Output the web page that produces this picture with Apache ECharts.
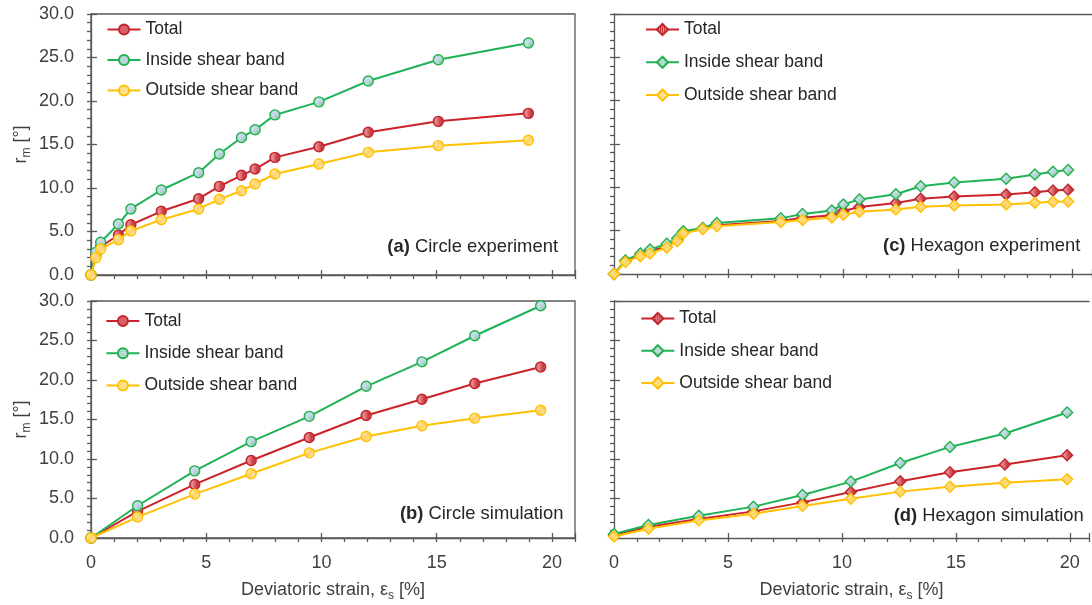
<!DOCTYPE html>
<html>
<head>
<meta charset="utf-8">
<script src="https://cdn.jsdelivr.net/npm/echarts@6/dist/echarts.min.js"></script>
<style>
html,body{margin:0;padding:0;background:#fff;}
#chart{width:1092px;height:605px;}
</style>
</head>
<body>
<div id="chart"></div>
<script>
// ---------------- data ----------------
const seriesNames = ['Total', 'Inside shear band', 'Outside shear band'];
const xTicks = [0, 5, 10, 15, 20];
const yTicks = ['0.0', '5.0', '10.0', '15.0', '20.0', '25.0', '30.0'];

// (a) Circle experiment
const aX       = [0, 0.21, 0.42, 1.19, 1.73, 3.05, 4.67, 5.57, 6.53, 7.12, 7.98, 9.89, 12.03, 15.07, 18.98];
const aTotal   = [0, 2.3, 3.25, 4.6, 5.78, 7.32, 8.77, 10.19, 11.46, 12.18, 13.52, 14.75, 16.4, 17.66, 18.58];
const aInside  = [0, 2.6, 3.76, 5.86, 7.59, 9.77, 11.76, 13.9, 15.8, 16.7, 18.4, 19.9, 22.3, 24.75, 26.67];
const aOutside = [0, 1.99, 2.99, 4.06, 5.06, 6.36, 7.59, 8.7, 9.69, 10.46, 11.61, 12.76, 14.1, 14.87, 15.48];

// (b) Circle simulation
const bX       = [0, 2.02, 4.5, 6.95, 9.47, 11.94, 14.36, 16.65, 19.51];
const bTotal   = [0, 3.37, 6.78, 9.81, 12.72, 15.5, 17.57, 19.55, 21.65];
const bInside  = [0, 4.08, 8.5, 12.2, 15.4, 19.2, 22.3, 25.6, 29.4];
const bOutside = [0, 2.65, 5.56, 8.13, 10.78, 12.85, 14.2, 15.17, 16.18];

// (c) Hexagon experiment
const cX       = [0, 0.5, 1.15, 1.57, 2.3, 2.76, 3.02, 3.87, 4.48, 7.27, 8.22, 9.5, 10.0, 10.7, 12.29, 13.37, 14.83, 17.1, 18.35, 19.14, 19.8];
const cTotal   = [0, 1.5, 2.2, 2.7, 3.1, 3.9, 4.78, 5.24, 5.62, 6.12, 6.5, 6.77, 7.26, 7.72, 8.18, 8.68, 8.95, 9.17, 9.44, 9.63, 9.71];
const cInside  = [0, 1.57, 2.37, 2.83, 3.48, 4.13, 4.93, 5.31, 5.89, 6.42, 6.92, 7.34, 8.03, 8.6, 9.21, 10.13, 10.55, 11.0, 11.47, 11.81, 12.0];
const cOutside = [0, 1.38, 2.06, 2.37, 3.06, 3.78, 4.66, 5.2, 5.5, 6.0, 6.23, 6.53, 6.84, 7.18, 7.45, 7.76, 7.91, 8.03, 8.22, 8.33, 8.37];

// (d) Hexagon simulation
const dX       = [0, 1.51, 3.72, 6.12, 8.27, 10.39, 12.56, 14.74, 17.15, 19.88];
const dTotal   = [0.38, 1.43, 2.41, 3.37, 4.51, 5.83, 7.17, 8.31, 9.29, 10.47];
const dInside  = [0.5, 1.65, 2.83, 3.97, 5.45, 7.14, 9.5, 11.53, 13.22, 15.88];
const dOutside = [0.2, 1.18, 2.23, 3.08, 4.06, 4.98, 5.87, 6.5, 7.0, 7.43];

const panelLabels = [['(a)', ' Circle experiment'], ['(b)', ' Circle simulation'], ['(c)', ' Hexagon experiment'], ['(d)', ' Hexagon simulation']];

// ---------------- styling ----------------
const FONT = "'Liberation Sans', Arial, sans-serif";
const AX = '#595959';
const TXT = '#404040';
const RED = '#cc2229', GREEN = '#1fb256', YEL = '#ffc000';

function pattern(bg, fg, kind) {
  const c = document.createElement('canvas');
  c.width = 4; c.height = 4;
  const g = c.getContext('2d');
  g.fillStyle = bg; g.fillRect(0, 0, 4, 4);
  g.fillStyle = fg;
  if (kind === 'v') { g.fillRect(0, 0, 1, 4); g.fillRect(2, 0, 1, 4); }
  else if (kind === 'dot') { g.fillRect(0, 0, 1, 1); g.fillRect(2, 2, 1, 1); g.fillRect(2, 0, 1, 1); g.fillRect(0, 2, 1, 1); }
  else { g.fillRect(0, 3, 1, 1); g.fillRect(1, 2, 1, 1); g.fillRect(2, 1, 1, 1); g.fillRect(3, 0, 1, 1); }
  return { image: c, repeat: 'repeat' };
}
const fills = [pattern('#e88c90', '#c8343c', 'v'), pattern('#c7dcec', '#8fc7a6', 'dot'), pattern('#ffe7a0', '#ffc94d', 'd')];
const lineColors = [RED, GREEN, YEL];
const borderColors = ['#c0262d', '#22b14c', '#ffc000'];

// right-hand panels run past the picture's right edge (cropped in the reference)
const grids = [
  { left: 91, top: 14, width: 484, height: 261, show: true },
  { left: 91, top: 301, width: 484, height: 237, show: true },
  { left: 614, top: 14, width: 478, height: 260, show: false },
  { left: 614, top: 301, width: 478, height: 237, show: false }
];
const xMax = [21, 21, 20.84, 20.84];

const xName = '{t|Deviatoric strain, ε}{s|s}{t| [%]}';
const yName = '{t|r}{s|m}{t| [°]}';
const nameRich = {
  t: { fontSize: 18, fontFamily: FONT, color: TXT, lineHeight: 24 },
  s: { fontSize: 12, fontFamily: FONT, color: TXT, lineHeight: 24, verticalAlign: 'bottom' }
};

const xAxis = [], yAxis = [];
grids.forEach((g, gi) => {
  const bottomRow = gi === 1 || gi === 3;
  const leftCol = gi < 2;
  xAxis.push({
    gridIndex: gi, type: 'value', min: 0, max: xMax[gi], interval: 1, position: 'bottom',
    axisLine: { show: true, onZero: false, lineStyle: { color: AX, width: 1.3 } },
    axisTick: { show: true, inside: false, length: 4, lineStyle: { color: AX, width: 1.3 } },
    axisLabel: { show: bottomRow, margin: 16, fontSize: 18, fontFamily: FONT, color: TXT,
      formatter: v => xTicks.indexOf(v) >= 0 ? String(v) : '' },
    splitLine: { show: false },
    name: bottomRow ? xName : '', nameLocation: 'middle', nameGap: 40,
    nameTextStyle: { rich: nameRich }
  });
  xAxis.push({
    gridIndex: gi, type: 'value', min: 0, max: xMax[gi], interval: 5, position: 'bottom',
    axisLine: { show: false, onZero: false },
    axisTick: { show: true, inside: true, length: 5, lineStyle: { color: AX, width: 1.3 } },
    axisLabel: { show: false }, splitLine: { show: false }
  });
  yAxis.push({
    gridIndex: gi, type: 'value', min: 0, max: 30, interval: 5, position: 'left',
    axisLine: { show: true, onZero: false, lineStyle: { color: AX, width: 1.3 } },
    axisTick: { show: true, inside: false, length: 4, lineStyle: { color: AX, width: 1.3 } },
    minorTick: { show: true, splitNumber: 5, length: 4, lineStyle: { color: AX, width: 1.3 } },
    axisLabel: { show: leftCol, margin: 17, fontSize: 18, fontFamily: FONT, color: TXT,
      formatter: v => yTicks[Math.round(v / 5)] },
    splitLine: { show: false },
    name: leftCol ? yName : '', nameLocation: 'middle', nameRotate: 90, nameGap: 58,
    nameTextStyle: { rich: nameRich }
  });
  yAxis.push({
    gridIndex: gi, type: 'value', min: 0, max: 30, interval: 5, position: 'left',
    axisLine: { show: false, onZero: false },
    axisTick: { show: true, inside: true, length: 6, lineStyle: { color: AX, width: 1.3 } },
    axisLabel: { show: false }, splitLine: { show: false }
  });
});
// top border line for the cropped right-hand panels
[2, 3].forEach(gi => {
  xAxis.push({
    gridIndex: gi, type: 'value', min: 0, max: xMax[gi], position: 'top',
    axisLine: { show: true, onZero: false, lineStyle: { color: AX, width: 1.3 } },
    axisTick: { show: false }, axisLabel: { show: false }, splitLine: { show: false }
  });
});

const panels = [
  { key: 'a', x: aX, ys: [aTotal, aInside, aOutside], symbol: 'circle', size: 10 },
  { key: 'b', x: bX, ys: [bTotal, bInside, bOutside], symbol: 'circle', size: 10 },
  { key: 'c', x: cX, ys: [cTotal, cInside, cOutside], symbol: 'diamond', size: 11 },
  { key: 'd', x: dX, ys: [dTotal, dInside, dOutside], symbol: 'diamond', size: 11 }
];

const series = [];
panels.forEach((p, gi) => {
  p.ys.forEach((ys, si) => {
    series.push({
      type: 'line', name: p.key + ':' + seriesNames[si],
      xAxisIndex: gi * 2, yAxisIndex: gi * 2,
      data: p.x.map((x, i) => [x, ys[i]]),
      symbol: p.symbol, symbolSize: p.size, showSymbol: true,
      lineStyle: { color: lineColors[si], width: 2 },
      itemStyle: { color: fills[si], borderColor: borderColors[si], borderWidth: 1.4 },
      z: 3 + si, animation: false
    });
  });
});

const legendPos = [
  { left: 106.5, top: 20.5, gap: 12.5, h: 12.5 },
  { left: 105.4, top: 312, gap: 14.3, h: 12.5 },
  { left: 645, top: 20.5, gap: 14.8, h: 14 },
  { left: 640.3, top: 309.5, gap: 14.2, h: 14 }
];
const legend = panels.map((p, gi) => ({
  orient: 'vertical', left: legendPos[gi].left, top: legendPos[gi].top,
  padding: 0, itemGap: legendPos[gi].gap, itemWidth: 33, itemHeight: legendPos[gi].h,
  selectedMode: false,
  data: seriesNames.map(n => p.key + ':' + n),
  formatter: n => n.slice(2),
  textStyle: { fontSize: 17.5, fontFamily: FONT, color: '#262626', padding: [0, 0, 0, 0] }
}));

const labelPos = [[558, 247], [563.4, 514], [1080.3, 245.7], [1083.8, 516]];
const graphic = panelLabels.map((l, i) => ({
  type: 'text', x: labelPos[i][0], y: labelPos[i][1], z: 10,
  style: {
    text: '{b|' + l[0] + '}' + l[1],
    align: 'right', verticalAlign: 'middle',
    font: '18.4px ' + FONT, fill: '#262626',
    rich: { b: { fontWeight: 'bold', fontSize: 18.4, fontFamily: FONT, fill: '#262626' } }
  }
}));

const chart = echarts.init(document.getElementById('chart'), null, { renderer: 'canvas' });
chart.setOption({
  animation: false,
  backgroundColor: '#ffffff',
  grid: grids.map(g => Object.assign({ borderColor: AX, borderWidth: 1.3, backgroundColor: 'transparent' }, g)),
  xAxis, yAxis, series, legend, graphic
});
</script>
</body>
</html>
